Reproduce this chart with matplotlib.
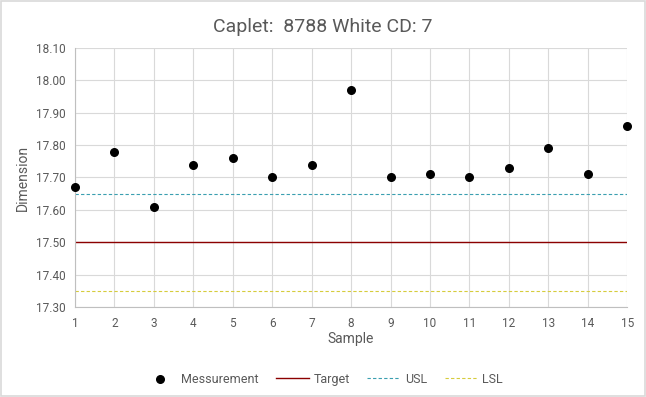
import matplotlib.pyplot as plt
from matplotlib.patches import Rectangle

samples = list(range(1, 16))
measurements = [17.67, 17.78, 17.61, 17.74, 17.76, 17.70, 17.74, 17.97,
                17.70, 17.71, 17.70, 17.73, 17.79, 17.71, 17.86]
target = 17.50
usl = 17.65
lsl = 17.35

plt.rcParams['font.family'] = ['Roboto', 'DejaVu Sans']
txt = '#595959'

fig = plt.figure(figsize=(6.46, 3.97), dpi=100)
ax = fig.add_axes([0.116, 0.227, 0.855, 0.652])

ax.scatter(samples, measurements, s=30, color='black', zorder=5, clip_on=False, label='Messurement')
ax.plot([1, 15], [target, target], color='#8b0000', lw=1.0, label='Target')
ax.plot([1, 15], [usl, usl], color='#3a9fb0', lw=0.8, ls=(0, (3, 2)), label='USL')
ax.plot([1, 15], [lsl, lsl], color='#d6cc3c', lw=0.8, ls=(0, (3, 2)), label='LSL')

ax.set_xlim(1, 15)
ax.set_ylim(17.30, 18.10)
ax.set_xticks(samples)
ax.set_yticks([17.30 + 0.1 * i for i in range(9)])
ax.set_yticklabels([f'{17.30 + 0.1 * i:.2f}' for i in range(9)])
ax.grid(True, color='#d9d9d9', lw=0.8)
ax.set_axisbelow(True)
for s in ['top', 'right']:
    ax.spines[s].set_visible(False)
ax.spines['left'].set_color('#bfbfbf')
ax.spines['bottom'].set_color('#bfbfbf')
ax.tick_params(length=0, colors=txt, labelsize=8.5, pad=7)

ax.set_xlabel('Sample', color=txt, fontsize=10, labelpad=2)
ax.set_ylabel('Dimension', color=txt, fontsize=10, labelpad=4)
fig.suptitle('Caplet:  8788 White CD: 7', color=txt, fontsize=14, y=0.955)

fig.legend(loc='lower center', bbox_to_anchor=(0.5, 0.0), ncol=4, frameon=False,
           fontsize=9, labelcolor=txt, handlelength=2.6, handletextpad=0.4,
           columnspacing=1.4)

fig.patches.append(Rectangle((0.002, 0.002), 0.996, 0.996, transform=fig.transFigure,
                             fill=False, edgecolor='#d9d9d9', lw=1.2))

fig.savefig('out.png', dpi=100)
